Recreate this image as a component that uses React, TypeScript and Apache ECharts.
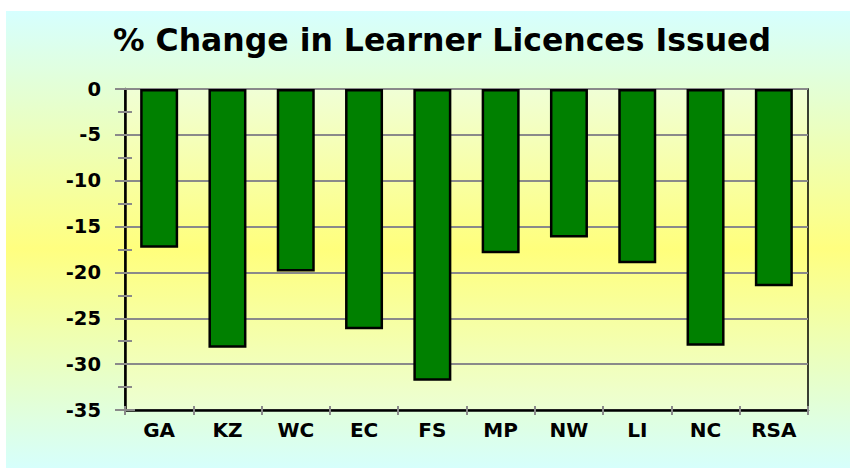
import React, { useEffect, useRef } from "react";
import * as echarts from "echarts";

const categories = ["GA", "KZ", "WC", "EC", "FS", "MP", "NW", "LI", "NC", "RSA"];
const changeValues = [-17.3, -28.2, -19.9, -26.2, -31.8, -17.9, -16.2, -19.0, -28.0, -21.5];
const titleText = "% Change in Learner Licences Issued";
const yMin = -35;
const yMax = 0;
const yInterval = 5;

const FONT = "'DejaVu Sans', 'Liberation Sans', Arial, sans-serif";

export default function App() {
  const ref = useRef<HTMLDivElement>(null);
  useEffect(() => {
    document.body.style.margin = "0";
    if (!ref.current) return;
    const chart = echarts.init(ref.current, undefined, { renderer: "svg" });
    const grey = "#8a8a8a";
    const plotGrad = new echarts.graphic.LinearGradient(0, 0, 0, 1, [
      { offset: 0, color: "#f0ffd6" },
      { offset: 0.5, color: "#ffff7c" },
      { offset: 1, color: "#ecffd4" },
    ]);
    const outerGrad = new echarts.graphic.LinearGradient(0, 0, 0, 1, [
      { offset: 0, color: "#d6ffff" },
      { offset: 0.52, color: "#ffff80" },
      { offset: 1, color: "#d6fffc" },
    ]);
    const yBase = {
      type: "value" as const,
      min: yMin,
      max: yMax,
      interval: yInterval,
      position: "left" as const,
    };
    chart.setOption({
      animation: false,
      graphic: [
        {
          type: "rect",
          z: -10,
          silent: true,
          shape: { x: 6, y: 11, width: 844, height: 457 },
          style: { fill: outerGrad },
        },
      ],
      title: {
        text: titleText,
        left: 108,
        top: 19,
        textStyle: { fontFamily: FONT, fontWeight: "bold", fontSize: 31.5, color: "#000" },
      },
      grid: {
        left: 125,
        top: 89,
        width: 683,
        height: 321,
        show: true,
        backgroundColor: plotGrad,
        borderColor: "#000",
        borderWidth: 1.5,
      },
      xAxis: [
        {
          type: "category",
          data: categories,
          position: "bottom",
          axisLine: { onZero: false, lineStyle: { color: "#000", width: 2.5 } },
          axisTick: { show: true, length: 5, lineStyle: { color: grey, width: 2 } },
          axisLabel: {
            margin: 10,
            fontFamily: FONT,
            fontWeight: "bold",
            fontSize: 20,
            color: "#000",
          },
          splitLine: { show: false },
        },
        {
          type: "category",
          data: categories,
          position: "bottom",
          axisLine: { show: false, onZero: false },
          axisTick: { show: true, inside: true, length: 4, lineStyle: { color: grey, width: 2 } },
          axisLabel: { show: false },
          splitLine: { show: false },
        },
      ],
      yAxis: [
        {
          ...yBase,
          axisLine: { show: true, onZero: false, lineStyle: { color: "#000", width: 2.5 } },
          axisTick: { show: true, length: 10, lineStyle: { color: grey, width: 2 } },
          minorTick: { show: true, splitNumber: 2, length: 7, lineStyle: { color: grey, width: 2 } },
          axisLabel: {
            margin: 24,
            fontFamily: FONT,
            fontWeight: "bold",
            fontSize: 19.5,
            color: "#000",
          },
          splitLine: { show: true, lineStyle: { color: grey, width: 2 } },
        },
        {
          ...yBase,
          axisLine: { show: false, onZero: false },
          axisTick: { show: true, inside: true, length: 10, lineStyle: { color: grey, width: 2 } },
          minorTick: { show: true, splitNumber: 2, length: 7, lineStyle: { color: grey, width: 2 } },
          axisLabel: { show: false },
          splitLine: { show: false },
        },
      ],
      series: [
        {
          type: "bar",
          data: changeValues,
          xAxisIndex: 0,
          yAxisIndex: 0,
          barWidth: 38,
          itemStyle: { color: "#008000", borderColor: "#000", borderWidth: 2.5 },
        },
      ],
    });
    return () => chart.dispose();
  }, []);
  return <div ref={ref} style={{ width: 850, height: 468 }} />;
}
